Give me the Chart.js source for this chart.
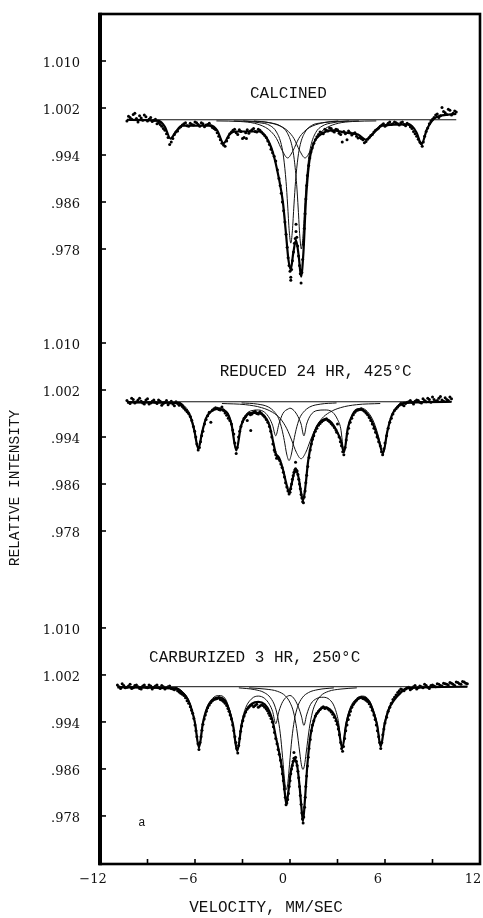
<!DOCTYPE html>
<html><head><meta charset="utf-8">
<script src="https://cdn.jsdelivr.net/npm/chart.js@4.4.1/dist/chart.umd.min.js"></script>
<style>html,body{margin:0;padding:0;background:#fff;overflow:hidden}#wrap{width:483px;height:918px}</style>
</head><body><div id="wrap"><canvas id="c" width="483" height="918"></canvas></div>
<script>
// ---------------- DATA ----------------
const velocityTicks = [-12, -9, -6, -3, 0, 3, 6, 9, 12];
const velocityLabels = ['\u221212', '', '\u22126', '', '0', '', '6', '', '12'];
const intensityTicks = [1.010, 1.002, 0.994, 0.986, 0.978];
const intensityLabels = ['1.010', '1.002', '.994', '.986', '.978'];
const panelTitles = ['CALCINED', 'REDUCED 24 HR, 425\u00B0C', 'CARBURIZED 3 HR, 250\u00B0C'];
const cornerLetter = 'a';
const xAxisTitle = 'VELOCITY, MM/SEC';
const yAxisTitle = 'RELATIVE INTENSITY';

// Panel 1: calcined  [velocity mm/s, relative intensity]
const calcinedPoints = [
[-10.3,0.9998],[-10.1,1.0004],[-9.9,1.0009],[-9.7,1.0002],[-9.5,1.0007],[-9.3,0.9999],[-9.1,1.0005],[-8.9,1.0001],
[-8.7,0.9997],[-8.5,1.0001],[-8.3,0.9995],[-8.1,0.9989],[-7.9,0.9982],[-7.7,0.9970],[-7.6,0.9958],[-7.5,0.9962],[-7.3,0.9975],
[-7.1,0.9981],[-6.9,0.9988],[-6.7,0.9993],[-6.5,0.9990],[-6.3,0.9994],[-6.1,0.9991],[-5.9,0.9995],[-5.7,0.9989],
[-5.5,0.9993],[-5.3,0.9991],[-5.1,0.9994],[-4.9,0.9987],[-4.7,0.9983],[-4.5,0.9972],[-4.3,0.9960],[-4.1,0.9955],
[-3.9,0.9970],[-3.7,0.9979],[-3.5,0.9984],[-3.3,0.9975],[-3.1,0.9980],[-3.0,0.9968],[-2.9,0.9970],[-2.75,0.9968],[-2.7,0.9983],
[-2.5,0.9981],[-2.3,0.9985],[-2.1,0.9979],[-1.9,0.9982],[-1.7,0.9976],[-1.5,0.9970],[-1.3,0.9958],[-1.1,0.9944],
[-0.9,0.9930],[-0.7,0.9900],[-0.55,0.9875],[-0.4,0.9845],[-0.25,0.9805],[-0.12,0.9765],[0.0,0.9742],[0.05,0.9732],[0.05,0.9727],
[0.15,0.9760],[0.28,0.9790],[0.38,0.9810],[0.38,0.9822],[0.48,0.9785],[0.6,0.9752],[0.7,0.9722],[0.8,0.9762],[0.9,0.9815],
[1.0,0.9865],[1.1,0.9905],[1.25,0.9935],[1.4,0.9952],[1.6,0.9966],[1.8,0.9975],[2.0,0.9978],[2.2,0.9984],
[2.4,0.9981],[2.6,0.9985],[2.8,0.9979],[3.0,0.9983],[3.2,0.9975],[3.3,0.9962],[3.4,0.9980],[3.6,0.9966],[3.8,0.9978],
[4.0,0.9976],[4.2,0.9972],[4.4,0.9970],[4.6,0.9966],[4.8,0.9963],[5.0,0.9970],[5.2,0.9975],[5.4,0.9982],
[5.6,0.9986],[5.8,0.9991],[6.0,0.9989],[6.2,0.9994],[6.4,0.9992],[6.6,0.9996],[6.8,0.9993],[7.0,0.9995],
[7.2,0.9992],[7.4,0.9994],[7.6,0.9988],[7.8,0.9980],[8.0,0.9972],[8.2,0.9962],[8.35,0.9955],[8.5,0.9972],
[8.7,0.9986],[8.9,0.9998],[9.1,1.0004],[9.3,1.0010],[9.5,1.0007],[9.6,1.0021],[9.7,1.0014],[9.9,1.0009],[10.1,1.0016],
[10.3,1.0011],[10.5,1.0013],
[-10.2,1.0006],[-10.0,1.0001],[-9.8,1.0011],[-9.6,0.9996],[-9.4,1.0003],[-9.2,1.0008],[-9.0,0.9998],[-8.8,1.0004],
[-8.6,0.9999],[-8.4,0.9993],[-8.2,0.9992],[-8.0,0.9985],[-7.8,0.9976],[-7.4,0.9968],[-7.2,0.9979],[-7.0,0.9986],
[-6.8,0.9991],[-6.6,0.9995],[-6.4,0.9989],[-6.2,0.9992],[-6.0,0.9996],[-5.8,0.9992],[-5.6,0.9995],[-5.4,0.9988],
[-5.2,0.9992],[-5.0,0.9990],[-4.8,0.9985],[-4.6,0.9978],[-4.4,0.9966],[-4.2,0.9957],[-4.0,0.9964],[-3.8,0.9976],
[-3.6,0.9982],[-3.4,0.9978],[-3.2,0.9983],[-2.8,0.9978],[-2.6,0.9977],[-2.4,0.9983],[-2.2,0.9980],[-2.0,0.9984],
[-1.8,0.9979],[-1.6,0.9973],[-1.4,0.9964],[-1.2,0.9950],[-1.0,0.9938],[-0.8,0.9915],[-0.62,0.9888],[-0.48,0.9860],
[-0.32,0.9826],[-0.18,0.9783],[-0.06,0.9752],[0.1,0.9745],[0.22,0.9775],[0.33,0.9798],[0.43,0.9800],[0.54,0.9768],
[0.65,0.9738],[0.75,0.9740],[0.85,0.9788],[0.95,0.9840],[1.05,0.9888],[1.18,0.9922],[1.32,0.9945],[1.5,0.9960],
[1.7,0.9971],[1.9,0.9979],[2.1,0.9976],[2.3,0.9982],[2.5,0.9986],[2.7,0.9981],[2.9,0.9984],[3.1,0.9977],
[3.5,0.9976],[3.7,0.9981],[3.9,0.9974],[4.1,0.9978],[4.3,0.9969],[4.5,0.9968],[4.7,0.9961],[4.9,0.9967],
[5.1,0.9973],[5.3,0.9979],[5.5,0.9984],[5.7,0.9989],[5.9,0.9993],[6.1,0.9991],[6.3,0.9996],[6.5,0.9993],
[6.7,0.9995],[6.9,0.9991],[7.1,0.9996],[7.3,0.9990],[7.5,0.9992],[7.7,0.9985],[7.9,0.9976],[8.1,0.9967],
[8.28,0.9960],[8.42,0.9962],[8.6,0.9980],[8.8,0.9993],[9.0,1.0001],[9.2,1.0008],[9.4,1.0004],[9.8,1.0012],
[10.0,1.0018],[10.2,1.0008],[10.4,1.0015]];
const calcinedFit = [
[-10.3,1.0000],[-8.3,0.9998],[-7.9,0.9988],[-7.55,0.9968],[-7.2,0.9980],[-6.8,0.9990],[-5.0,0.9990],[-4.6,0.9982],
[-4.2,0.9960],[-3.8,0.9976],[-3.4,0.9980],[-2.0,0.9980],[-1.5,0.9970],[-1.1,0.9946],[-0.7,0.9900],[-0.45,0.9860],
[-0.25,0.9805],[-0.1,0.9762],[0.05,0.9745],[0.2,0.9772],[0.38,0.9795],[0.55,0.9768],[0.7,0.9733],[0.85,0.9775],
[1.0,0.9860],[1.2,0.9925],[1.5,0.9960],[1.9,0.9974],[2.7,0.9982],[3.5,0.9978],[4.3,0.9975],[4.8,0.9966],
[5.3,0.9978],[5.8,0.9990],[7.5,0.9992],[8.0,0.9978],[8.3,0.9958],[8.65,0.9984],[9.2,1.0004],[10.5,1.0010]];
const calcinedLineA = [[-2.95,0.9998],[-1.95,0.9995],[-1.25,0.9990],[-0.85,0.9979],[-0.55,0.9958],[-0.4,0.9935],[-0.25,0.9895],
[-0.15,0.9855],[-0.05,0.9811],[0.05,0.9790],[0.15,0.9811],[0.25,0.9855],[0.35,0.9895],[0.5,0.9935],[0.65,0.9958],
[0.95,0.9979],[1.35,0.9990],[2.05,0.9995],[3.05,0.9998]];
const calcinedLineB = [[-2.28,0.9998],[-1.28,0.9995],[-0.58,0.9989],[-0.18,0.9978],[0.12,0.9956],[0.27,0.9932],[0.42,0.9890],
[0.52,0.9848],[0.62,0.9802],[0.72,0.9780],[0.82,0.9802],[0.92,0.9848],[1.02,0.9890],[1.17,0.9932],[1.32,0.9956],
[1.62,0.9978],[2.02,0.9989],[2.72,0.9995],[3.72,0.9998]];
const calcinedBroadA = [[-4.65,0.9998],[-3.15,0.9997],[-2.25,0.9994],[-1.55,0.9987],[-1.2,0.9980],[-0.85,0.9968],[-0.5,0.9948],
[-0.15,0.9935],[0.2,0.9948],[0.55,0.9968],[0.9,0.9980],[1.25,0.9987],[1.95,0.9994],[2.85,0.9997],[4.35,0.9998]];
const calcinedBroadB = [[-3.55,0.9998],[-2.05,0.9997],[-1.15,0.9994],[-0.45,0.9987],[-0.1,0.9980],[0.25,0.9968],[0.6,0.9948],
[0.95,0.9935],[1.3,0.9948],[1.65,0.9968],[2.0,0.9980],[2.35,0.9987],[3.05,0.9994],[3.95,0.9997],[5.45,0.9998]];
const calcinedBaseline = [[-10.3,1.0000],[10.5,1.0000]];

// Panel 2: reduced 24 hr, 425 C
const reducedPoints = [
[-10.3,1.0002],[-10.1,0.9997],[-9.9,1.0004],[-9.7,1.0000],[-9.5,1.0006],[-9.3,0.9998],[-9.1,1.0003],[-8.9,0.9996],
[-8.7,1.0001],[-8.5,0.9999],[-8.3,1.0003],[-8.1,0.9994],[-7.9,0.9999],[-7.7,0.9995],[-7.5,1.0001],[-7.3,0.9993],
[-7.1,0.9997],[-6.9,0.9995],[-6.7,0.9989],[-6.5,0.9983],[-6.3,0.9975],[-6.1,0.9958],[-5.95,0.9940],[-5.8,0.9918],
[-5.65,0.9932],[-5.5,0.9950],[-5.3,0.9970],[-5.1,0.9982],[-5.0,0.9965],[-4.9,0.9986],[-4.7,0.9990],[-4.5,0.9987],[-4.3,0.9991],
[-4.1,0.9981],[-3.9,0.9972],[-3.7,0.9962],[-3.55,0.9945],[-3.4,0.9912],[-3.25,0.9940],[-3.1,0.9958],[-2.9,0.9972],
[-2.7,0.9968],[-2.5,0.9978],[-2.48,0.9951],[-2.3,0.9982],[-2.1,0.9980],[-1.9,0.9983],[-1.7,0.9977],[-1.5,0.9970],[-1.3,0.9958],
[-1.15,0.9940],[-1.0,0.9918],[-0.9,0.9910],[-0.8,0.9907],[-0.65,0.9900],[-0.5,0.9888],[-0.35,0.9872],[-0.2,0.9855],
[-0.06,0.9843],[0.05,0.9852],[0.15,0.9868],[0.25,0.9880],[0.35,0.9886],[0.35,0.9897],[0.45,0.9882],[0.55,0.9868],[0.65,0.9852],
[0.75,0.9836],[0.85,0.9828],[0.95,0.9848],[1.05,0.9875],[1.2,0.9905],[1.35,0.9928],[1.5,0.9942],[1.7,0.9955],
[1.9,0.9963],[2.1,0.9968],[2.3,0.9971],[2.5,0.9966],[2.7,0.9960],[2.9,0.9952],[3.0,0.9962],[3.1,0.9940],[3.25,0.9925],
[3.4,0.9910],[3.55,0.9935],[3.7,0.9955],[3.9,0.9972],[4.1,0.9982],[4.3,0.9986],[4.5,0.9988],[4.7,0.9984],
[4.9,0.9978],[5.1,0.9968],[5.3,0.9955],[5.5,0.9940],[5.7,0.9925],[5.85,0.9910],[6.0,0.9930],[6.2,0.9955],
[6.4,0.9972],[6.6,0.9985],[6.8,0.9991],[7.0,0.9997],[7.2,0.9993],[7.4,0.9999],[7.6,1.0002],[7.8,0.9996],
[8.0,1.0003],[8.2,0.9999],[8.4,1.0005],[8.6,1.0000],[8.8,1.0004],[9.0,1.0008],[9.2,1.0001],[9.4,1.0006],
[9.6,1.0003],[9.8,1.0007],[10.0,1.0002],[10.2,1.0005],
[-10.2,0.9999],[-10.0,1.0006],[-9.8,0.9998],[-9.6,1.0003],[-9.4,1.0001],[-9.2,0.9996],[-9.0,1.0005],[-8.8,0.9998],
[-8.6,1.0003],[-8.4,0.9997],[-8.2,1.0001],[-8.0,0.9997],[-7.8,1.0002],[-7.6,0.9998],[-7.4,0.9996],[-7.2,1.0000],
[-7.0,0.9994],[-6.8,0.9992],[-6.6,0.9986],[-6.4,0.9980],[-6.2,0.9968],[-6.02,0.9950],[-5.88,0.9928],[-5.72,0.9922],
[-5.58,0.9942],[-5.4,0.9962],[-5.2,0.9976],[-4.8,0.9988],[-4.6,0.9989],[-4.4,0.9986],[-4.2,0.9985],[-4.0,0.9977],
[-3.8,0.9968],[-3.62,0.9952],[-3.48,0.9930],[-3.33,0.9922],[-3.18,0.9950],[-3.0,0.9966],[-2.8,0.9975],[-2.6,0.9980],
[-2.4,0.9979],[-2.2,0.9984],[-2.0,0.9979],[-1.8,0.9980],[-1.6,0.9974],[-1.4,0.9965],[-1.22,0.9950],[-1.08,0.9928],
[-0.95,0.9915],[-0.85,0.9904],[-0.72,0.9903],[-0.58,0.9894],[-0.42,0.9880],[-0.28,0.9862],[-0.13,0.9848],[0.0,0.9846],
[0.1,0.9860],[0.2,0.9874],[0.3,0.9884],[0.4,0.9884],[0.5,0.9876],[0.6,0.9860],[0.7,0.9842],[0.8,0.9830],
[0.9,0.9838],[1.0,0.9862],[1.12,0.9890],[1.28,0.9918],[1.42,0.9936],[1.6,0.9950],[1.8,0.9960],[2.0,0.9966],
[2.2,0.9970],[2.4,0.9968],[2.6,0.9963],[2.8,0.9956],[2.95,0.9948],[3.18,0.9932],[3.33,0.9915],[3.48,0.9922],
[3.62,0.9946],[3.8,0.9965],[4.0,0.9978],[4.2,0.9985],[4.4,0.9987],[4.6,0.9986],[4.8,0.9981],[5.0,0.9973],
[5.2,0.9962],[5.4,0.9948],[5.6,0.9932],[5.78,0.9915],[5.93,0.9920],[6.1,0.9942],[6.3,0.9965],[6.5,0.9979],
[6.7,0.9988],[6.9,0.9994],[7.1,0.9995],[7.3,0.9997],[7.5,1.0000],[7.7,0.9999],[7.9,1.0001],[8.1,1.0002],
[8.3,0.9998],[8.5,1.0002],[8.7,1.0006],[8.9,0.9999],[9.1,1.0004],[9.3,1.0002],[9.5,1.0009],[9.7,1.0001],
[9.9,1.0004],[10.1,1.0008]];
const reducedFit = [
[-10.3,0.9999],[-7.0,0.9998],[-6.6,0.9987],[-6.3,0.9975],[-6.05,0.9952],[-5.79,0.9920],[-5.55,0.9948],[-5.3,0.9972],
[-5.0,0.9983],[-4.6,0.9988],[-4.0,0.9982],[-3.7,0.9962],[-3.39,0.9917],[-3.1,0.9958],[-2.8,0.9975],[-2.4,0.9981],
[-2.0,0.9981],[-1.6,0.9975],[-1.3,0.9960],[-1.05,0.9930],[-0.9,0.9912],[-0.7,0.9905],[-0.45,0.9885],[-0.2,0.9857],
[-0.06,0.9846],[0.1,0.9860],[0.25,0.9878],[0.4,0.9882],[0.55,0.9870],[0.7,0.9845],[0.82,0.9832],[0.95,0.9850],
[1.15,0.9900],[1.4,0.9935],[1.7,0.9958],[2.0,0.9968],[2.3,0.9970],[2.6,0.9965],[2.95,0.9950],[3.2,0.9935],
[3.41,0.9914],[3.65,0.9955],[3.95,0.9978],[4.3,0.9987],[4.6,0.9986],[5.0,0.9975],[5.35,0.9955],[5.6,0.9935],
[5.87,0.9912],[6.15,0.9950],[6.45,0.9978],[6.8,0.9992],[7.2,0.9998],[10.2,1.0000]];
const reducedSextet = [
[-10.3,1.0000],[-7.0,0.9998],[-6.6,0.9991],[-6.3,0.9978],[-6.05,0.9955],[-5.79,0.9920],[-5.5,0.9955],[-5.2,0.9978],
[-4.8,0.9988],[-4.5,0.9990],[-4.0,0.9983],[-3.7,0.9964],[-3.39,0.9918],[-3.1,0.9960],[-2.8,0.9978],[-2.4,0.9985],
[-2.0,0.9986],[-1.6,0.9982],[-1.3,0.9972],[-1.1,0.9960],[-0.9,0.9942],[-0.7,0.9962],[-0.45,0.9980],[-0.1,0.9988],
[0.0,0.9989],[0.25,0.9985],[0.5,0.9975],[0.7,0.9962],[0.88,0.9942],[1.05,0.9962],[1.3,0.9977],[1.7,0.9985],
[2.2,0.9986],[2.7,0.9982],[3.0,0.9970],[3.2,0.9955],[3.41,0.9916],[3.7,0.9960],[4.0,0.9980],[4.5,0.9989],
[4.9,0.9983],[5.3,0.9965],[5.6,0.9940],[5.87,0.9912],[6.15,0.9950],[6.45,0.9978],[6.8,0.9991],[7.2,0.9998],[10.2,1.0000]];
const reducedLineA = [[-3.06,0.9998],[-2.06,0.9996],[-1.36,0.9991],[-0.96,0.9982],[-0.71,0.9971],[-0.51,0.9953],[-0.36,0.9934],
[-0.21,0.9911],[-0.06,0.9900],[0.09,0.9911],[0.24,0.9934],[0.39,0.9953],[0.59,0.9971],[0.84,0.9982],[1.24,0.9991],
[1.94,0.9996],[2.94,0.9998]];
const reducedLineB = [[-4.3,0.9997],[-2.8,0.9995],[-1.8,0.9990],[-1.1,0.9982],[-0.6,0.9971],[-0.2,0.9954],[0.1,0.9935],
[0.4,0.9914],[0.7,0.9903],[1.0,0.9914],[1.3,0.9935],[1.6,0.9954],[2.0,0.9971],[2.5,0.9982],[3.2,0.9990],
[4.2,0.9995],[5.7,0.9997]];
const reducedBaseline = [[-10.3,1.0000],[10.2,1.0000]];

// Panel 3: carburized 3 hr, 250 C
const carburizedPoints = [
[-10.9,1.0003],[-10.7,0.9997],[-10.5,1.0002],[-10.3,0.9999],[-10.1,1.0004],[-9.9,0.9998],[-9.7,1.0003],[-9.5,0.9997],
[-9.3,1.0001],[-9.1,0.9999],[-8.9,1.0003],[-8.7,0.9996],[-8.5,1.0001],[-8.3,0.9998],[-8.1,1.0002],[-7.9,0.9996],
[-7.7,1.0000],[-7.5,0.9997],[-7.3,0.9995],[-7.1,0.9993],[-6.9,0.9989],[-6.7,0.9985],[-6.5,0.9976],[-6.3,0.9966],
[-6.15,0.9955],[-6.0,0.9935],[-5.88,0.9915],[-5.75,0.9893],[-5.62,0.9915],[-5.5,0.9936],[-5.35,0.9952],[-5.2,0.9964],
[-5.0,0.9973],[-4.8,0.9978],[-4.6,0.9980],[-4.4,0.9978],[-4.2,0.9975],[-4.0,0.9968],[-3.85,0.9958],[-3.7,0.9945],
[-3.55,0.9925],[-3.42,0.9905],[-3.3,0.9887],[-3.18,0.9912],[-3.05,0.9933],[-2.9,0.9950],[-2.7,0.9962],[-2.5,0.9968],
[-2.3,0.9966],[-2.1,0.9970],[-1.9,0.9967],[-1.7,0.9968],[-1.5,0.9962],[-1.35,0.9955],[-1.2,0.9946],[-1.05,0.9932],
[-0.9,0.9912],[-0.75,0.9893],[-0.6,0.9875],[-0.48,0.9852],[-0.36,0.9826],[-0.25,0.9799],[-0.15,0.9808],[-0.05,0.9830],
[0.05,0.9852],[0.15,0.9866],[0.25,0.9878],[0.25,0.9888],[0.35,0.9880],[0.45,0.9866],[0.55,0.9845],[0.65,0.9815],[0.75,0.9785],
[0.83,0.9768],[0.92,0.9795],[1.0,0.9830],[1.1,0.9865],[1.2,0.9895],[1.35,0.9925],[1.5,0.9942],[1.7,0.9955],
[1.9,0.9961],[2.1,0.9966],[2.3,0.9964],[2.5,0.9960],[2.7,0.9953],[2.9,0.9942],[3.05,0.9928],[3.2,0.9905],
[3.32,0.9890],[3.45,0.9912],[3.6,0.9935],[3.75,0.9952],[3.9,0.9965],[4.1,0.9974],[4.3,0.9980],[4.5,0.9982],
[4.7,0.9979],[4.9,0.9975],[5.1,0.9966],[5.3,0.9952],[5.45,0.9935],[5.6,0.9915],[5.73,0.9895],[5.86,0.9918],
[6.0,0.9938],[6.2,0.9958],[6.4,0.9972],[6.6,0.9982],[6.8,0.9990],[7.0,0.9996],[7.2,0.9993],[7.4,0.9998],
[7.6,0.9995],[7.8,1.0000],[8.0,0.9996],[8.2,1.0001],[8.4,0.9998],[8.6,1.0002],[8.8,0.9997],[9.0,1.0003],
[9.2,1.0000],[9.4,1.0004],[9.6,1.0001],[9.8,1.0005],[10.0,1.0003],[10.2,1.0006],[10.4,1.0002],[10.6,1.0007],
[10.8,1.0004],[11.0,1.0008],[11.2,1.0005],
[-10.8,1.0000],[-10.6,1.0005],[-10.4,0.9998],[-10.2,1.0001],[-10.0,0.9997],[-9.8,1.0002],[-9.6,1.0000],[-9.4,0.9996],
[-9.2,1.0003],[-9.0,0.9998],[-8.8,1.0001],[-8.6,0.9999],[-8.4,1.0003],[-8.2,0.9997],[-8.0,1.0000],[-7.8,0.9998],
[-7.6,1.0001],[-7.4,0.9996],[-7.2,0.9997],[-7.0,0.9991],[-6.8,0.9987],[-6.6,0.9981],[-6.4,0.9972],[-6.22,0.9960],
[-6.07,0.9946],[-5.94,0.9925],[-5.81,0.9903],[-5.68,0.9905],[-5.56,0.9926],[-5.42,0.9945],[-5.28,0.9958],[-5.1,0.9969],
[-4.9,0.9976],[-4.7,0.9979],[-4.5,0.9981],[-4.3,0.9977],[-4.1,0.9972],[-3.92,0.9963],[-3.78,0.9952],[-3.62,0.9935],
[-3.48,0.9915],[-3.36,0.9895],[-3.24,0.9900],[-3.12,0.9924],[-2.98,0.9942],[-2.8,0.9957],[-2.6,0.9965],[-2.4,0.9969],
[-2.2,0.9968],[-2.0,0.9965],[-1.8,0.9969],[-1.6,0.9965],[-1.42,0.9959],[-1.28,0.9951],[-1.12,0.9940],[-0.98,0.9922],
[-0.82,0.9903],[-0.68,0.9885],[-0.54,0.9864],[-0.42,0.9840],[-0.3,0.9812],[-0.2,0.9802],[-0.1,0.9818],[0.0,0.9840],
[0.1,0.9860],[0.2,0.9873],[0.3,0.9878],[0.4,0.9873],[0.5,0.9856],[0.6,0.9830],[0.7,0.9800],[0.79,0.9775],
[0.87,0.9778],[0.96,0.9812],[1.05,0.9848],[1.15,0.9880],[1.28,0.9910],[1.42,0.9935],[1.6,0.9950],[1.8,0.9958],
[2.0,0.9964],[2.2,0.9963],[2.4,0.9962],[2.6,0.9957],[2.8,0.9948],[2.98,0.9936],[3.12,0.9918],[3.26,0.9895],
[3.38,0.9898],[3.52,0.9925],[3.68,0.9944],[3.82,0.9958],[4.0,0.9970],[4.2,0.9977],[4.4,0.9981],[4.6,0.9980],
[4.8,0.9977],[5.0,0.9971],[5.2,0.9960],[5.38,0.9944],[5.52,0.9925],[5.66,0.9905],[5.8,0.9905],[5.93,0.9928],
[6.1,0.9948],[6.3,0.9965],[6.5,0.9978],[6.7,0.9986],[6.9,0.9993],[7.1,0.9995],[7.3,0.9996],[7.5,0.9999],
[7.7,0.9997],[7.9,1.0002],[8.1,0.9998],[8.3,1.0000],[8.5,1.0004],[8.7,0.9999],[8.9,1.0002],[9.1,1.0001],
[9.3,1.0005],[9.5,1.0002],[9.7,1.0006],[9.9,1.0004],[10.1,1.0007],[10.3,1.0004],[10.5,1.0008],[10.7,1.0005],
[10.9,1.0009],[11.1,1.0006]];
const carburizedFit = [
[-10.9,0.9999],[-7.2,0.9997],[-6.8,0.9990],[-6.45,0.9978],[-6.2,0.9960],[-6.0,0.9938],[-5.75,0.9896],[-5.5,0.9938],
[-5.25,0.9962],[-4.9,0.9977],[-4.5,0.9982],[-4.1,0.9976],[-3.85,0.9960],[-3.6,0.9935],[-3.33,0.9890],[-3.05,0.9936],
[-2.8,0.9958],[-2.4,0.9971],[-2.0,0.9974],[-1.6,0.9970],[-1.3,0.9958],[-1.1,0.9942],[-0.9,0.9915],[-0.7,0.9890],
[-0.5,0.9860],[-0.35,0.9825],[-0.23,0.9800],[-0.1,0.9822],[0.05,0.9855],[0.2,0.9872],[0.32,0.9876],[0.45,0.9866],
[0.6,0.9832],[0.72,0.9795],[0.82,0.9771],[0.95,0.9810],[1.1,0.9868],[1.3,0.9918],[1.55,0.9946],[1.85,0.9960],
[2.2,0.9965],[2.5,0.9962],[2.8,0.9952],[3.05,0.9932],[3.3,0.9895],[3.55,0.9936],[3.8,0.9960],[4.2,0.9977],
[4.6,0.9982],[5.0,0.9974],[5.25,0.9958],[5.5,0.9935],[5.73,0.9898],[5.98,0.9937],[6.25,0.9962],[6.6,0.9978],
[7.0,0.9990],[7.4,0.9997],[11.2,1.0000]];
const carburizedSextet = [
[-10.9,1.0000],[-7.2,0.9998],[-6.8,0.9992],[-6.45,0.9980],[-6.2,0.9962],[-6.0,0.9940],[-5.75,0.9898],[-5.5,0.9940],
[-5.25,0.9965],[-4.9,0.9980],[-4.5,0.9985],[-4.1,0.9980],[-3.85,0.9964],[-3.6,0.9938],[-3.33,0.9892],[-3.05,0.9940],
[-2.8,0.9964],[-2.4,0.9980],[-2.0,0.9984],[-1.6,0.9980],[-1.3,0.9970],[-1.1,0.9958],[-0.9,0.9937],[-0.7,0.9958],
[-0.45,0.9975],[0.0,0.9985],[0.3,0.9978],[0.55,0.9964],[0.72,0.9950],[0.88,0.9934],[1.05,0.9952],[1.3,0.9970],
[1.7,0.9980],[2.1,0.9982],[2.5,0.9978],[2.8,0.9966],[3.05,0.9942],[3.3,0.9897],[3.55,0.9940],[3.8,0.9964],
[4.2,0.9980],[4.6,0.9984],[5.0,0.9977],[5.25,0.9962],[5.5,0.9938],[5.73,0.9900],[5.98,0.9940],[6.25,0.9965],
[6.6,0.9980],[7.0,0.9992],[7.4,0.9998],[11.2,1.0000]];
const carburizedLineA = [[-3.23,0.9998],[-2.23,0.9995],[-1.63,0.9990],[-1.23,0.9981],[-0.93,0.9965],[-0.73,0.9942],
[-0.58,0.9912],[-0.43,0.9868],[-0.33,0.9838],[-0.23,0.9825],[-0.13,0.9838],[-0.03,0.9868],[0.12,0.9912],[0.27,0.9942],
[0.47,0.9965],[0.77,0.9981],[1.17,0.9990],[1.77,0.9995],[2.77,0.9998]];
const carburizedLineB = [[-2.58,0.9998],[-1.58,0.9996],[-0.78,0.9992],[-0.28,0.9984],[0.02,0.9972],[0.22,0.9957],
[0.42,0.9929],[0.62,0.9887],[0.72,0.9867],[0.82,0.9859],[0.92,0.9867],[1.02,0.9887],[1.22,0.9929],[1.42,0.9957],
[1.62,0.9972],[1.92,0.9984],[2.42,0.9992],[3.22,0.9996],[4.22,0.9998]];
const carburizedBaseline = [[-10.9,1.0000],[11.2,1.0000]];

// ---------------- LAYOUT / STYLE ----------------
const panelShift = [0, 0.0480, 0.0965];   // vertical stacking of the three spectra
const Y_MIN = 0.87332, Y_MAX = 1.0180;
const MONO = '"Liberation Mono", "DejaVu Sans Mono", monospace';
const SERIF = '"DejaVu Serif", serif';

const panels = [
  {pts: calcinedPoints, fit: calcinedFit, comps: [calcinedLineA, calcinedLineB, calcinedBroadA, calcinedBroadB], base: calcinedBaseline},
  {pts: reducedPoints, fit: reducedFit, comps: [reducedSextet, reducedLineA, reducedLineB], base: reducedBaseline},
  {pts: carburizedPoints, fit: carburizedFit, comps: [carburizedSextet, carburizedLineA, carburizedLineB], base: carburizedBaseline}
];
const titlePos = [[-0.1, 1.0044], [1.62, 1.0051], [-2.23, 1.0050]];
const letterPos = [-9.35, 0.9768, 2];

const toXY = (arr, k) => arr.map(p => ({x: p[0], y: p[1] - panelShift[k]}));
const datasets = [];
panels.forEach((p, k) => {
  datasets.push({data: toXY(p.fit, k), showLine: true, borderColor: '#000', borderWidth: 2.2, pointRadius: 0, cubicInterpolationMode: 'monotone', order: 1});
  p.comps.forEach(c => datasets.push({data: toXY(c, k), showLine: true, borderColor: '#111', borderWidth: 1, pointRadius: 0, cubicInterpolationMode: 'monotone', order: 2}));
  datasets.push({data: toXY(p.base, k), showLine: true, borderColor: '#111', borderWidth: 1, pointRadius: 0, order: 2});
  datasets.push({data: toXY(p.pts, k), showLine: false, pointRadius: 1.5, pointBackgroundColor: '#000', pointBorderWidth: 0, order: 3});
});

const yTickValues = [];
panelShift.forEach(s => intensityTicks.forEach(t => yTickValues.push(+(t - s).toFixed(6))));
function yLabel(v) {
  for (let k = 0; k < panelShift.length; k++)
    for (let i = 0; i < intensityTicks.length; i++)
      if (Math.abs(intensityTicks[i] - panelShift[k] - v) < 1e-5) return intensityLabels[i];
  return '';
}

const decor = {
  id: 'decor',
  afterDraw(chart) {
    const {ctx, chartArea: a, scales: {x, y}} = chart;
    ctx.save();
    ctx.strokeStyle = '#000';
    ctx.lineWidth = 2.6;
    ctx.strokeRect(a.left, a.top, a.right - a.left, a.bottom - a.top);
    ctx.lineWidth = 4;
    ctx.beginPath(); ctx.moveTo(a.left, a.top - 1.3); ctx.lineTo(a.left, a.bottom + 1.3); ctx.stroke();
    ctx.lineWidth = 1.6;
    y.ticks.forEach(t => { const py = y.getPixelForValue(t.value); ctx.beginPath(); ctx.moveTo(a.left, py); ctx.lineTo(a.left + 6, py); ctx.stroke(); });
    x.ticks.forEach(t => { const px = x.getPixelForValue(t.value); ctx.beginPath(); ctx.moveTo(px, a.bottom); ctx.lineTo(px, a.bottom - 5); ctx.stroke(); });
    ctx.fillStyle = '#111';
    ctx.textAlign = 'center'; ctx.textBaseline = 'middle';
    ctx.font = '16px ' + MONO;
    panelTitles.forEach((t, k) => ctx.fillText(t, x.getPixelForValue(titlePos[k][0]), y.getPixelForValue(titlePos[k][1] - panelShift[k])));
    ctx.font = '12px ' + MONO;
    ctx.fillText(cornerLetter, x.getPixelForValue(letterPos[0]), y.getPixelForValue(letterPos[1] - panelShift[letterPos[2]]));
    ctx.font = '16px ' + MONO;
    ctx.fillText(xAxisTitle, 266, 908);
    ctx.save();
    ctx.translate(15, 488); ctx.rotate(-Math.PI / 2);
    ctx.font = '14.5px ' + MONO;
    ctx.fillText(yAxisTitle, 0, 0);
    ctx.restore();
    ctx.restore();
  }
};

new Chart(document.getElementById('c'), {
  type: 'scatter',
  data: {datasets},
  options: {
    responsive: false, animation: false, devicePixelRatio: 1,
    layout: {autoPadding: false, padding: {top: 14, right: 3, left: 0, bottom: 0}},
    plugins: {legend: {display: false}, tooltip: {enabled: false}},
    scales: {
      x: {
        type: 'linear', min: -12, max: 12,
        grid: {display: false, drawTicks: false}, border: {display: false},
        afterBuildTicks: s => { s.ticks = velocityTicks.map(v => ({value: v})); },
        afterFit: s => { s.height = 54; s.paddingLeft = 0; s.paddingRight = 0; },
        ticks: {autoSkip: false, maxRotation: 0, padding: 8, labelOffset: -7, color: '#111', font: {family: SERIF, size: 13},
          callback: (v) => { const i = velocityTicks.indexOf(v); return i >= 0 ? velocityLabels[i] : ''; }}
      },
      y: {
        type: 'linear', min: Y_MIN, max: Y_MAX,
        grid: {display: false, drawTicks: false}, border: {display: false},
        afterBuildTicks: s => { s.ticks = yTickValues.map(v => ({value: v})); },
        afterFit: s => { s.width = 100; s.paddingTop = 0; s.paddingBottom = 0; },
        ticks: {autoSkip: false, padding: 20, labelOffset: 3, color: '#111', font: {family: SERIF, size: 13}, callback: v => yLabel(v)}
      }
    }
  },
  plugins: [decor]
});
</script></body></html>
